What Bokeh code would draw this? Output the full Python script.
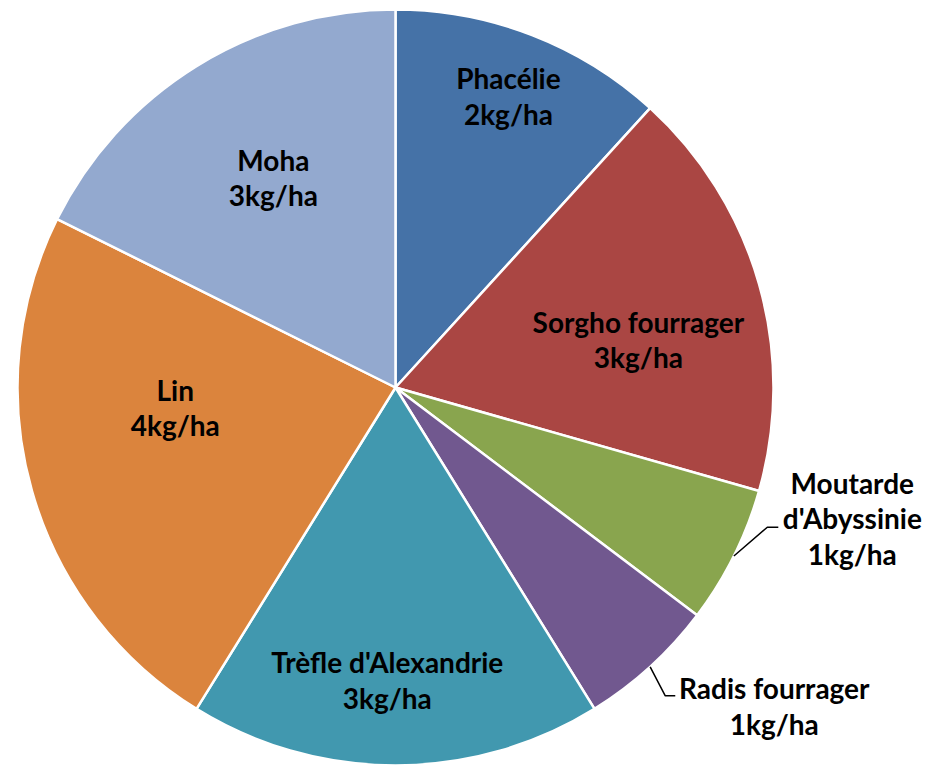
import math
from bokeh.plotting import figure
from bokeh.models import Range1d, ColumnDataSource
from bokeh.core.properties import value
from bokeh.embed import file_html
from bokeh.resources import INLINE

# ---- data ----
names = ["Phacélie", "Sorgho fourrager", "Moutarde\nd'Abyssinie", "Radis fourrager",
         "Trèfle d'Alexandrie", "Lin", "Moha"]
doses = [2, 3, 1, 1, 3, 4, 3]          # kg/ha
unit = "kg/ha"
colors = ["#4572A7", "#AA4643", "#89A54E", "#71588F", "#4198AF", "#DB843D", "#93A9CF"]

# ---- label placement (style) ----
label_r = [0.827, 0.655, 1.257, 1.309, 0.775, 0.585, 0.643]    # fraction of radius
label_dtheta = [0.0, 4.7, -10.5, -7.6, 1.6, 10.7, 1.6]         # degrees offset from mid angle
outside = [False, False, True, True, False, False, False]
leader_elbow = {2: (-85, -9, -74), 3: (-109, 10, -99)}          # (elbow dx, dy, end dx) from label centre

W, H = 925, 765
cx, cy, R = 395, 378, 378

p = figure(width=W, height=H, output_backend="svg", toolbar_location=None,
           x_range=Range1d(0, W), y_range=Range1d(0, H), min_border=0)
p.axis.visible = False
p.grid.visible = False
p.outline_line_color = None
p.background_fill_color = "white"
p.border_fill_color = "white"

total = sum(doses)
starts, ends, mids = [], [], []
cum = 0
for d in doses:
    a0 = cum / total * 360.0
    cum += d
    a1 = cum / total * 360.0
    starts.append(math.pi / 2 - math.radians(a0))
    ends.append(math.pi / 2 - math.radians(a1))
    mids.append((a0 + a1) / 2)

src = ColumnDataSource(dict(x=[cx] * len(doses), y=[cy] * len(doses), s=starts, e=ends, c=colors))
p.wedge(x="x", y="y", radius=R, start_angle="s", end_angle="e", direction="clock",
        fill_color="c", line_color="white", line_width=2.5, source=src)

lx, ly, lt = [], [], []
for i, (n, d) in enumerate(zip(names, doses)):
    th = math.radians(mids[i] + label_dtheta[i])
    x = cx + label_r[i] * R * math.sin(th)
    y = cy + label_r[i] * R * math.cos(th)
    lx.append(x)
    ly.append(y)
    lt.append(f"{n}\n{d}{unit}")
    if outside[i]:
        tm = math.radians(mids[i])
        sx = cx + R * math.sin(tm)
        sy = cy + R * math.cos(tm)
        ex, ey, hx = leader_elbow[i]
        p.line([sx, x + ex, x + hx], [sy, y + ey, y + ey], line_color="black", line_width=1.5)

p.text(x=lx, y=ly, text=lt, text_font=value("Lato"), text_font_style="bold",
       text_font_size="28px", text_align="center", text_baseline="middle",
       text_line_height=1.05, text_color="black")

open("out.html", "w").write(file_html(p, INLINE))
